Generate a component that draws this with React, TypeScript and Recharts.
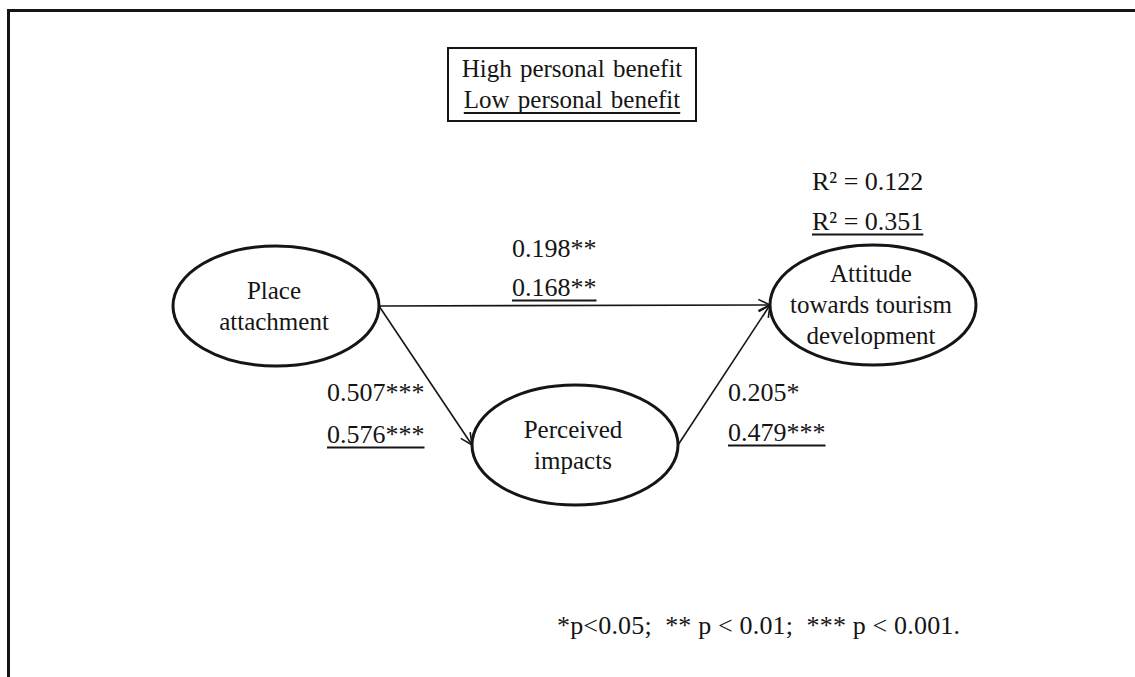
import React from 'react';
import { ScatterChart, Scatter, XAxis, YAxis, ReferenceLine, Legend } from 'recharts';

const FONT = '"Liberation Serif", "Times New Roman", serif';
const INK = '#151515';

// constructs, placed in diagram units (y grows downward)
const nodeLines = [['Place', 'attachment'], ['Perceived', 'impacts'], ['Attitude', 'towards tourism', 'development']];
const nodeX = [276, 575, 873];
const nodeY = [306, 445, 305];

// structural paths: source index -> target index
const pathFrom = [0, 0, 1];
const pathTo = [2, 1, 2];

// path coefficients, high benefit group above, low benefit group (underlined) below
const coefHigh = ['0.198**', '0.507***', '0.205*'];
const coefLow = ['0.168**', '0.576***', '0.479***'];
const coefX = [512, 327, 728];
const coefHighY = [257, 401, 401];
const coefLowY = [296, 443, 441];

// explained variance of the outcome
const r2High = 'R\u00b2 = 0.122';
const r2Low = 'R\u00b2 = 0.351';
const r2X = 812;
const r2Y = [190, 230];

const groupNames = ['High personal benefit', 'Low personal benefit'];
const footnote = '*p<0.05;  ** p < 0.01;  *** p < 0.001.';
const footX = 557;
const footY = 634;

const nodeData = nodeLines.map((lines, i) => ({ x: nodeX[i], y: nodeY[i], lines }));

const textData = [
  ...coefHigh.map((t, i) => ({ x: coefX[i], y: coefHighY[i], text: t, underline: false, note: false })),
  ...coefLow.map((t, i) => ({ x: coefX[i], y: coefLowY[i], text: t, underline: true, note: false })),
  { x: r2X, y: r2Y[0], text: r2High, underline: false, note: false },
  { x: r2X, y: r2Y[1], text: r2Low, underline: true, note: false },
  { x: footX, y: footY, text: footnote, underline: false, note: true },
];

const RX = 103;
const RY = 60;
const NODE_FONT = 25;
const LABEL_FONT = 26;

let ctx: CanvasRenderingContext2D | null = null;
function textWidth(t: string, size: number) {
  if (!ctx) ctx = document.createElement('canvas').getContext('2d');
  if (!ctx) return t.length * size * 0.5;
  ctx.font = `${size}px "Liberation Serif"`;
  return ctx.measureText(t).width;
}

const NodeShape = (props: any) => {
  const { cx, cy, payload } = props;
  const lines: string[] = payload.lines;
  const lh = 31;
  return (
    <g>
      <ellipse cx={cx} cy={cy} rx={RX} ry={RY} fill="#fff" stroke={INK} strokeWidth={3} />
      {lines.map((l, i) => (
        <text
          key={l}
          x={cx - 2}
          y={cy + (i - (lines.length - 1) / 2) * lh + 8}
          textAnchor="middle"
          fontFamily={FONT}
          fontSize={NODE_FONT}
          fill={INK}
        >
          {l}
        </text>
      ))}
    </g>
  );
};

const TextShape = (props: any) => {
  const { cx, cy, payload } = props;
  const w = textWidth(payload.text, LABEL_FONT);
  return (
    <g>
      <text
        x={cx}
        y={cy}
        fontFamily={FONT}
        fontSize={LABEL_FONT}
        fill={INK}
        style={{ whiteSpace: 'pre' }}
        textLength={payload.note ? 403 : undefined}
        lengthAdjust="spacing"
      >
        {payload.text}
      </text>
      {payload.underline && (
        <line x1={cx} x2={cx + w} y1={cy + 4.5} y2={cy + 4.5} stroke={INK} strokeWidth={1.8} />
      )}
    </g>
  );
};

// arrow from the right end of the source ellipse to the left end of the target
const ArrowShape = (props: any) => {
  const { x1, y1, x2, y2 } = props;
  const sx = x1 + RX;
  const tx = x2 - RX;
  const ang = Math.atan2(y2 - y1, tx - sx);
  const len = 13;
  const spread = 0.45;
  const a1x = tx - len * Math.cos(ang - spread);
  const a1y = y2 - len * Math.sin(ang - spread);
  const a2x = tx - len * Math.cos(ang + spread);
  const a2y = y2 - len * Math.sin(ang + spread);
  return (
    <g>
      <line x1={sx} y1={y1} x2={tx} y2={y2} stroke={INK} strokeWidth={1.6} />
      <polyline
        points={`${a1x},${a1y} ${tx},${y2} ${a2x},${a2y}`}
        fill="none"
        stroke={INK}
        strokeWidth={1.6}
      />
    </g>
  );
};

const GroupLegend = () => (
  <div
    style={{
      boxSizing: 'border-box',
      width: 250,
      height: 75,
      border: `2px solid ${INK}`,
      paddingTop: 4,
      textAlign: 'center',
      fontFamily: FONT,
      fontSize: 25,
      lineHeight: '31px',
      color: INK,
      wordSpacing: 2,
      background: '#fff',
    }}
  >
    <div>{groupNames[0]}</div>
    <div
      style={{
        textDecoration: 'underline',
        textUnderlineOffset: 4,
        textDecorationThickness: 2,
        textDecorationSkipInk: 'none',
      }}
    >
      {groupNames[1]}
    </div>
  </div>
);

export default function App() {
  return (
    <div style={{ position: 'fixed', left: 0, top: 0, width: 1135, height: 677, background: '#fff', overflow: 'hidden' }}>
      <ScatterChart width={1135} height={677} margin={{ top: 0, right: 0, bottom: 0, left: 0 }}>
        <XAxis type="number" dataKey="x" domain={[0, 1135]} allowDataOverflow hide />
        <YAxis type="number" dataKey="y" domain={[0, 677]} allowDataOverflow reversed hide />
        {pathFrom.map((f, i) => (
          <ReferenceLine
            key={`path-${i}`}
            segment={[
              { x: nodeX[f], y: nodeY[f] },
              { x: nodeX[pathTo[i]], y: nodeY[pathTo[i]] },
            ]}
            shape={ArrowShape}
            ifOverflow="visible"
          />
        ))}
        <Scatter data={nodeData} shape={NodeShape} isAnimationActive={false} legendType="none" />
        <Scatter data={textData} shape={TextShape} isAnimationActive={false} legendType="none" />
        <Legend
          layout="horizontal"
          verticalAlign="middle"
          align="center"
          content={GroupLegend}
          wrapperStyle={{ position: 'absolute', left: 447, top: 47, width: 250, height: 75 }}
        />
      </ScatterChart>
      <div
        style={{
          position: 'absolute',
          left: 7,
          top: 9,
          right: -10,
          bottom: -10,
          borderTop: `3px solid ${INK}`,
          borderLeft: `3px solid ${INK}`,
          pointerEvents: 'none',
        }}
      />
    </div>
  );
}
